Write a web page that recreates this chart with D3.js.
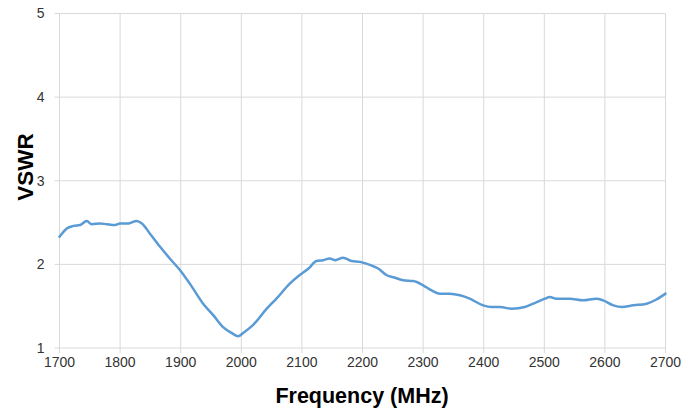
<!DOCTYPE html>
<html><head><meta charset="utf-8">
<script src="https://cdn.jsdelivr.net/npm/d3@7/dist/d3.min.js"></script>
<style>body{margin:0;background:#fff}</style>
</head><body>
<svg id="c" width="699" height="412"></svg>
<script>
const freq = [1700,1712,1723,1734,1745,1753,1767,1778,1792,1800,1814,1827,1836,1849,1866,1882,1899,1915,1937,1954,1970,1984,1995,2003,2020,2042,2058,2080,2096,2111,2124,2135,2146,2155,2168,2182,2196,2210,2226,2240,2254,2267,2284,2300,2314,2328,2344,2361,2377,2399,2413,2427,2446,2468,2485,2501,2509,2520,2542,2564,2586,2597,2614,2628,2647,2669,2685,2700];
const vswr = [2.33,2.43,2.46,2.47,2.52,2.48,2.49,2.48,2.47,2.49,2.49,2.52,2.49,2.37,2.21,2.07,1.93,1.77,1.53,1.39,1.25,1.18,1.14,1.18,1.28,1.47,1.59,1.77,1.87,1.95,2.04,2.05,2.07,2.05,2.08,2.04,2.03,2.00,1.95,1.87,1.84,1.81,1.80,1.75,1.69,1.65,1.65,1.63,1.59,1.51,1.49,1.49,1.47,1.49,1.54,1.59,1.61,1.59,1.59,1.57,1.59,1.57,1.51,1.49,1.51,1.53,1.58,1.65];
const xTicks = [1700,1800,1900,2000,2100,2200,2300,2400,2500,2600,2700];
const yTicks = [1,2,3,4,5];

const svg = d3.select("#c");
const m = {l:59.5, r:33.5, t:13.5, b:64};
const W = 699, H = 412;
const x = d3.scaleLinear().domain([1700,2700]).range([m.l, W-m.r]);
const y = d3.scaleLinear().domain([1,5]).range([H-m.b, m.t]);
const grid = "#d9d9d9";
const font = "'Liberation Sans', Arial, sans-serif";

svg.append("g").selectAll("line").data(yTicks).join("line")
  .attr("x1", m.l-5).attr("x2", W-m.r)
  .attr("y1", d=>y(d)).attr("y2", d=>y(d))
  .attr("stroke", grid).attr("stroke-width",1);
svg.append("g").selectAll("line").data(xTicks).join("line")
  .attr("x1", d=>x(d)).attr("x2", d=>x(d))
  .attr("y1", m.t).attr("y2", H-m.b+5)
  .attr("stroke", grid).attr("stroke-width",1);

svg.append("g").selectAll("text").data(yTicks).join("text")
  .attr("x", m.l-15).attr("y", d=>y(d)).attr("dy","0.35em")
  .attr("text-anchor","end").attr("font-family",font).attr("font-size",14)
  .attr("fill","#333").text(d=>d);
svg.append("g").selectAll("text").data(xTicks).join("text")
  .attr("x", d=>x(d)).attr("y", H-m.b+19)
  .attr("text-anchor","middle").attr("font-family",font).attr("font-size",14)
  .attr("fill","#333").text(d=>d);

const data = freq.map((f,i)=>[f,vswr[i]]);
svg.append("path").datum(data)
  .attr("fill","none").attr("stroke","#5b9bd5").attr("stroke-width",2.5)
  .attr("stroke-linejoin","round").attr("stroke-linecap","round")
  .attr("d", d3.line().x(d=>x(d[0])).y(d=>y(d[1])).curve(d3.curveMonotoneX));

svg.append("text").attr("x", 362).attr("y", 403)
  .attr("text-anchor","middle").attr("font-family",font).attr("font-weight","bold")
  .attr("font-size",21.5).attr("fill","#000").text("Frequency (MHz)");
svg.append("text").attr("transform","translate(33,167) rotate(-90)")
  .attr("text-anchor","middle").attr("font-family",font).attr("font-weight","bold")
  .attr("font-size",22.5).attr("fill","#000").text("VSWR");
</script>
</body></html>
